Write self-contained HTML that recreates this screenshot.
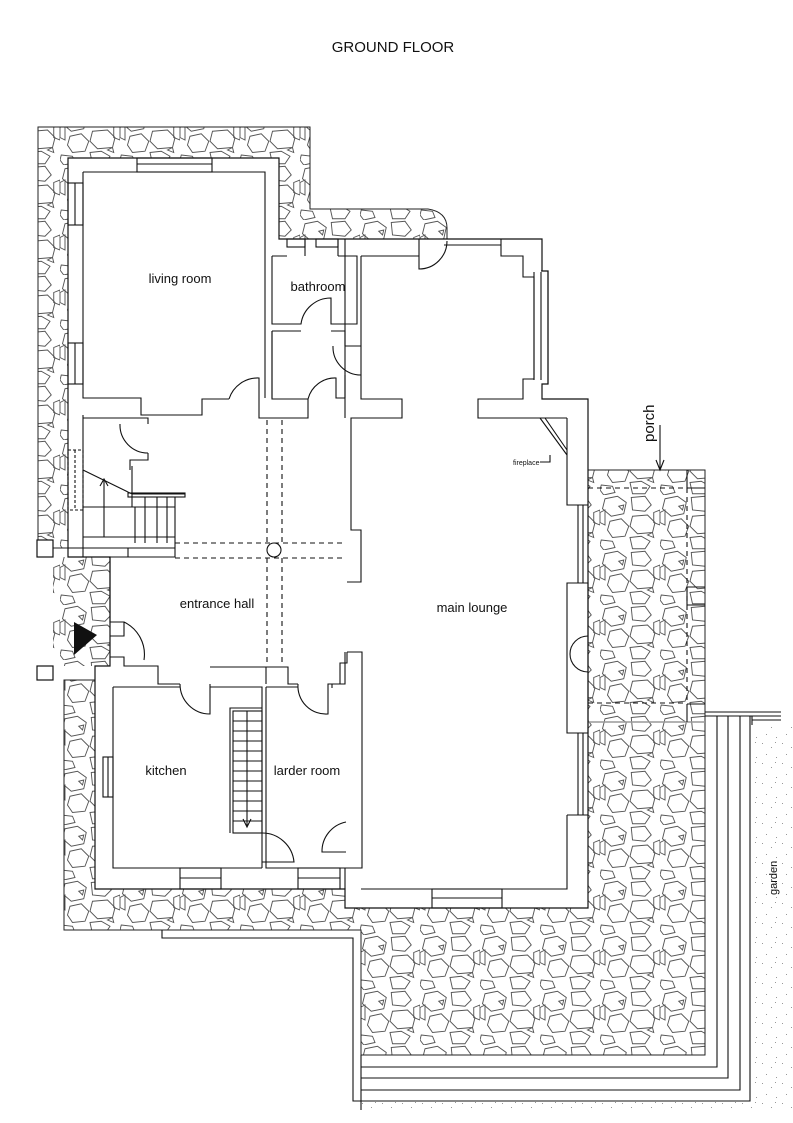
<!DOCTYPE html>
<html><head><meta charset="utf-8"><style>
html,body{margin:0;padding:0;background:#fff;}
svg{display:block;}
text{font-family:"Liberation Sans",sans-serif;fill:#111;}
</style></head><body>
<svg width="793" height="1123" viewBox="0 0 793 1123" xmlns="http://www.w3.org/2000/svg">
<defs>
<pattern id="st" width="48" height="44" patternUnits="userSpaceOnUse" patternTransform="scale(1.25)">
<rect width="48" height="44" fill="#fff"/>
<g fill="none" stroke="#555" stroke-width="0.75">
<polygon points="4,3 14,1 21,6 19,15 9,17 2,11"/>
<polygon points="25,2 36,1 41,8 36,13 26,12"/>
<polygon points="43,14 48,12 48,24 43,22"/>
<polygon points="0,14 4,12 4,24 0,22"/>
<polygon points="8,21 17,19 23,25 20,33 10,34 6,28"/>
<polygon points="26,17 38,16 44,22 42,30 30,31 24,25"/>
<polygon points="1,36 10,37 12,42 3,44 0,40"/>
<polygon points="24,34 33,33 40,37 36,43 26,43"/>
<polygon points="15,9 19,8 18,12"/>
<polygon points="38,32 42,30 43,34"/>
</g>
</pattern>
<pattern id="sp" width="20" height="20" patternUnits="userSpaceOnUse">
<rect width="20" height="20" fill="#fff"/>
<g fill="#999"><rect x="2" y="3" width="1" height="1"/><rect x="11" y="7" width="1" height="1"/><rect x="6" y="14" width="1" height="1"/><rect x="16" y="17" width="1" height="1"/><rect x="15" y="2" width="1" height="1"/></g>
</pattern>
</defs>

<text x="393" y="52" font-size="15" text-anchor="middle">GROUND FLOOR</text>

<rect x="752" y="725" width="41" height="385" fill="url(#sp)"/>
<rect x="361" y="1101" width="392" height="12" fill="url(#sp)"/>

<g fill="url(#st)" stroke="#222" stroke-width="1">
<path d="M38,127 H310 V209 H428 Q447,212 447,228 V239 H68 V548 H38 Z"/>
<path d="M53,557 H110 V666 H53 Z" stroke="none"/>
<path d="M64,680 H95 V889 H348 V908 H588 V470 H705 V1055 H361 V930 H64 Z"/>
</g>
<line x1="588" y1="722" x2="705" y2="722" stroke="#999" stroke-width="1.5"/>

<g fill="#fff" stroke="#111" stroke-width="1.2">
<path d="M68,158 H279 V239 H542 V271 H548 V384 H542 V399 H588 V908 H345 V889 H95 V666 H110 V557 H68 Z"/>
<rect x="37" y="540" width="16" height="17"/>
<rect x="37" y="666" width="16" height="14"/>
</g>

<g fill="none" stroke="#111" stroke-width="1.1">
<path d="M83,172 H265 V398"/>
<path d="M83,172 V398 H141 V415 H202 V399 H229"/>
<path d="M229,399 A30,30 0 0 1 259,378 V418 H308 V399 H272 V331"/>
<rect x="137" y="158" width="75" height="14"/><line x1="137" y1="164" x2="212" y2="164"/>
<rect x="68" y="183" width="15" height="42"/><line x1="75" y1="183" x2="75" y2="225"/>
<rect x="68" y="343" width="15" height="41"/><line x1="75" y1="343" x2="75" y2="384"/>
<!-- bathroom -->
<path d="M272,256 H287 M338,256 H357 V324 H331 V298 A30,30 0 0 0 301,324 H272 V256"/>
<path d="M305,239 V256 M338,239 V256"/>
<rect x="287" y="239" width="18" height="8"/><rect x="316" y="239" width="22" height="8"/>
<path d="M272,331 H301 M331,331 H345 V346 M272,331 V398"/>
<path d="M345,346 H361 M333,346 A28,28 0 0 0 361,375 M345,375 V398 M308,399 A28,28 0 0 1 336,378 V398 H345"/>
<path d="M361,256 H419 V239 M419,239 V269 A28,28 0 0 0 447,241"/>
<path d="M444,239 H501 V245 M444,245 H501 M501,245 V256 H523 V277 H534 V379 H523 V399 H478 V418 H567"/>
<path d="M534,272 V380 M541,272 V380 M541,271 H548 V384"/>
<path d="M361,256 V399 H402 V418 H351 V530 H361 V582 H347"/>
<path d="M345,239 V418"/>
<path d="M540,418 L567,455 M545,418 L567,450 M567,418 V505 H588"/>
<path d="M550,455 V462 H540"/>
<path d="M567,505 H588 M578,505 V583 M583,505 V583 M567,583 H588 V733 H567 Z"/>
<path d="M578,733 V815 M583,733 V815 M567,815 H588 M567,815 V889 H361"/>
<path d="M588,636 A17,17 0 0 0 588,672"/>
<path d="M347,652 H362 V868 H345 V889 M347,652 V663 H340 V684 H332 V688"/>
<rect x="432" y="889" width="70" height="19"/><line x1="432" y1="898" x2="502" y2="898"/>
<path d="M83,415 V548 H175"/>
<path d="M83,418 H148 V424 M148,453 V460 H130 V470"/>
<path d="M120,424 A28,28 0 0 0 148,453"/>
<path d="M132,466 V507 H175 M83,507 H132 M83,470 L132,494 L185,494"/>
<rect x="128" y="493" width="57" height="4"/>
<path d="M135,507 V543 M145,497 V543 M157,497 V543 M167,497 V543 M175,497 V548"/>
<path d="M104,537 V479 M100,486 L104,479 L108,486"/>
<path d="M83,537 H175"/>
<path d="M68,548 H83 V557 H128 V548 M128,557 H175 V548"/>
<rect x="68" y="450" width="15" height="60" stroke-dasharray="3,2"/>
<line x1="75" y1="450" x2="75" y2="510" stroke-dasharray="3,2"/>
<g stroke-dasharray="5,4">
<path d="M267,420 V543 M282,420 V543 M267,558 V665 M282,558 V665"/>
<path d="M175,543 H345 M175,558 H345"/>
</g>
<circle cx="274" cy="550" r="7"/>
<path d="M110,557 V622 H124 V636 H110 M124,622 A36,36 0 0 1 144,660 M110,657 H124 V666 H158 V684 H180"/>
<path d="M180,684 A30,30 0 0 0 210,714 V684 M210,667 H266 V684 M266,667 H282 M282,667 H288 V684 H298"/>
<path d="M298,684 A28,28 0 0 0 328,714 V684 H345 V652"/>
<path d="M113,687 V868 H180 M221,868 H262 M113,687 H180 M210,687 H262 V868"/>
<path d="M266,687 V868 H298 M340,868 H345 M266,687 H298"/>
<path d="M262,833 A32,32 0 0 1 294,862 H262"/>
<path d="M346,822 A30,30 0 0 0 322,852 H346"/>
<rect x="180" y="868" width="41" height="21"/><line x1="180" y1="878" x2="221" y2="878"/>
<rect x="298" y="868" width="42" height="21"/><line x1="298" y1="878" x2="340" y2="878"/>
<rect x="103" y="757" width="10" height="40"/><line x1="108" y1="757" x2="108" y2="797"/>
<path d="M230,833 V708 H262"/>
<rect x="233" y="711" width="29" height="122"/>
<path d="M233,721 H262 M233,731 H262 M233,741 H262 M233,751 H262 M233,761 H262 M233,771 H262 M233,781 H262 M233,791 H262 M233,801 H262 M233,811 H262 M233,821 H262"/>
<path d="M247,711 V827 M243,819 L247,827 L251,819"/>
<path d="M687,470 V488 H705 M687,587 H705 M687,605 H705 M687,587 V605 M687,704 V722 M687,704 H705"/>
<g stroke-dasharray="5,4"><path d="M588,488 H687 M588,703 H687 M687,488 V703"/></g>
<path d="M705,712 H781 M705,716 H752 V725 M717,716 V1067 H361 M728,716 V1078 H361 M740,716 V1090 H361 M750,716 V1101 H353 V938 H162 V930 M361,1055 V1110"/>
<path d="M752,712 H781 M752,716 H781 M752,720 H781"/>
<path d="M660,425 V470 M656,460 L660,470 L664,460"/>
</g>

<text x="180" y="283" font-size="13" text-anchor="middle">living room</text>
<text x="318" y="291" font-size="13" text-anchor="middle">bathroom</text>
<text x="217" y="608" font-size="13" text-anchor="middle">entrance hall</text>
<text x="472" y="612" font-size="13" text-anchor="middle">main lounge</text>
<text x="166" y="775" font-size="13" text-anchor="middle">kitchen</text>
<text x="307" y="775" font-size="13" text-anchor="middle">larder  room</text>
<text x="513" y="465" font-size="7">fireplace</text>
<text transform="translate(654,442) rotate(-90)" font-size="15">porch</text>
<text transform="translate(777,895) rotate(-90)" font-size="11">garden</text>
<path d="M74,622 L97,635 L74,655 Z" fill="#111"/>
</svg>
</body></html>
